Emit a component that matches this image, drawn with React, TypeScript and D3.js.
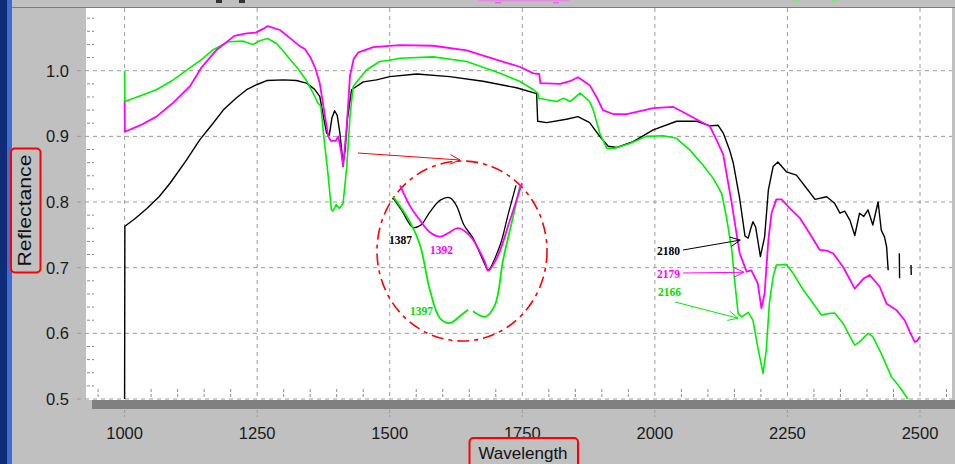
import React from 'react';
import * as d3 from 'd3';

// wavelength (nm), reflectance ; null = gap in the record
const blackSpectrum: [number, number | null][] = [
  [1000, 0.5], [1000.5, 0.763], [1020, 0.775], [1042, 0.79], [1065, 0.808], [1086, 0.829],
  [1115, 0.862], [1142, 0.895], [1165, 0.918], [1186, 0.94], [1210, 0.958], [1230, 0.971],
  [1250, 0.979], [1268, 0.985], [1300, 0.986], [1324, 0.985], [1343, 0.981], [1358, 0.972],
  [1368, 0.961], [1375, 0.93], [1381, 0.905], [1386, 0.902], [1391, 0.928], [1396, 0.939],
  [1401, 0.932], [1406, 0.905], [1412, 0.858], [1416, 0.88], [1420, 0.925], [1428, 0.971],
  [1450, 0.983], [1475, 0.986], [1500, 0.991], [1551, 0.995], [1613, 0.991], [1676, 0.984],
  [1739, 0.974], [1777, 0.965], [1779, 0.923], [1796, 0.921], [1833, 0.926], [1855, 0.93],
  [1877, 0.921], [1896, 0.9], [1912, 0.885], [1928, 0.883], [1959, 0.892], [1997, 0.91],
  [2041, 0.923], [2079, 0.923], [2104, 0.916], [2119, 0.917], [2129, 0.905], [2141, 0.879],
  [2148, 0.859], [2160, 0.805], [2170, 0.748], [2176, 0.745], [2181, 0.76], [2185, 0.77],
  [2190, 0.762], [2199, 0.717], [2207, 0.747], [2214, 0.818], [2223, 0.854], [2232, 0.861],
  [2248, 0.846], [2267, 0.841], [2286, 0.821], [2302, 0.804], [2324, 0.808], [2339, 0.798],
  [2349, 0.783], [2358, 0.786], [2368, 0.772], [2377, 0.749], [2386, 0.783], [2394, 0.778],
  [2402, 0.788], [2411, 0.765], [2421, 0.8], [2427, 0.757], [2433, 0.747], [2437, 0.732],
  [2440, 0.696], [2450, null], [2461, 0.722], [2461.5, 0.684], [2470, null],
  [2483, 0.704], [2483.5, 0.689],
];

const magentaSpectrum: [number, number][] = [
  [1000, 0.953], [1000.5, 0.907], [1030, 0.917], [1060, 0.93], [1090, 0.95], [1123, 0.976],
  [1145, 1.005], [1174, 1.032], [1207, 1.053], [1230, 1.057], [1247, 1.058], [1262, 1.064],
  [1270, 1.068], [1293, 1.062], [1316, 1.047], [1331, 1.037], [1340, 1.033], [1350, 1.021],
  [1360, 1.003], [1368, 0.981], [1378, 0.93], [1384, 0.9], [1389, 0.893], [1393, 0.893],
  [1398, 0.893], [1403, 0.9], [1409, 0.874], [1412, 0.854], [1419, 0.916], [1425, 0.992],
  [1432, 1.018], [1441, 1.028], [1469, 1.036], [1519, 1.039], [1582, 1.038], [1645, 1.031],
  [1708, 1.015], [1745, 1.006], [1771, 0.996], [1782, 0.995], [1784, 0.981], [1821, 0.98],
  [1840, 0.984], [1855, 0.99], [1877, 0.978], [1890, 0.96], [1902, 0.94], [1921, 0.934],
  [1947, 0.934], [1997, 0.943], [2034, 0.945], [2060, 0.934], [2085, 0.923], [2104, 0.915],
  [2116, 0.895], [2129, 0.872], [2135, 0.844], [2145, 0.798], [2154, 0.752], [2160, 0.722],
  [2173, 0.694], [2182, 0.696], [2194, 0.676], [2201, 0.638], [2207, 0.661], [2214, 0.742],
  [2220, 0.783], [2229, 0.804], [2239, 0.804], [2255, 0.79], [2274, 0.775], [2292, 0.752],
  [2311, 0.727], [2324, 0.726], [2336, 0.722], [2355, 0.701], [2377, 0.668], [2393, 0.683],
  [2405, 0.689], [2424, 0.671], [2437, 0.645], [2456, 0.635], [2471, 0.62], [2481, 0.602],
  [2490, 0.587], [2494, 0.588], [2500, 0.595],
];

const greenSpectrum: [number, number][] = [
  [1000, 1.0], [1000.5, 0.953], [1030, 0.962], [1060, 0.971], [1090, 0.985], [1117, 1.001],
  [1145, 1.017], [1167, 1.032], [1196, 1.044], [1224, 1.045], [1242, 1.04], [1256, 1.046],
  [1270, 1.049], [1287, 1.041], [1299, 1.03], [1310, 1.019], [1324, 1.006], [1343, 0.985],
  [1356, 0.965], [1365, 0.95], [1370, 0.946], [1375, 0.905], [1384, 0.839], [1390, 0.788],
  [1393, 0.786], [1399, 0.796], [1405, 0.79], [1412, 0.798], [1419, 0.854], [1425, 0.93],
  [1431, 0.976], [1456, 1.001], [1481, 1.014], [1500, 1.016], [1519, 1.019], [1582, 1.021],
  [1645, 1.014], [1708, 0.996], [1745, 0.984], [1771, 0.971], [1779, 0.966], [1781, 0.958],
  [1815, 0.953], [1828, 0.958], [1840, 0.953], [1859, 0.966], [1877, 0.953], [1884, 0.94],
  [1896, 0.905], [1909, 0.882], [1924, 0.882], [1953, 0.889], [1984, 0.9], [2016, 0.901],
  [2041, 0.897], [2066, 0.879], [2091, 0.856], [2110, 0.836], [2126, 0.813], [2135, 0.777],
  [2145, 0.727], [2151, 0.676], [2157, 0.63], [2164, 0.625], [2176, 0.632], [2185, 0.62],
  [2194, 0.579], [2204, 0.539], [2210, 0.574], [2216, 0.646], [2223, 0.686], [2229, 0.704],
  [2248, 0.705], [2261, 0.691], [2280, 0.666], [2299, 0.645], [2314, 0.628], [2327, 0.63],
  [2339, 0.631], [2355, 0.615], [2368, 0.595], [2377, 0.582], [2386, 0.587], [2402, 0.6],
  [2411, 0.595], [2427, 0.569], [2446, 0.534], [2462, 0.518], [2477, 0.5],
];

// magnified view of the 1.4 um doublet (schematic, drawn in the circle)
const insetBlack: [number, number][] = [
  [1370, 0.941], [1374, 0.925], [1379.3, 0.903], [1383, 0.906], [1387.2, 0.923], [1392, 0.938],
  [1396.5, 0.941], [1399.5, 0.931], [1403, 0.906], [1407, 0.89], [1412.8, 0.855], [1414.2, 0.848],
  [1419.8, 0.88], [1423.5, 0.919], [1427.2, 0.957],
];
const insetMagenta: [number, number][] = [
  [1373.3, 0.957], [1378, 0.93], [1382.6, 0.912], [1387, 0.897], [1391.9, 0.891], [1396, 0.896],
  [1400.2, 0.902], [1405.8, 0.892], [1412.8, 0.858], [1414.2, 0.847], [1418.4, 0.864],
  [1424.4, 0.912], [1430, 0.96],
];
const insetGreen: [number, number | null][] = [
  [1370, 0.943], [1377.9, 0.91], [1382.6, 0.88], [1387.2, 0.822], [1391.9, 0.786],
  [1396.5, 0.78], [1401.2, 0.789], [1404.9, 0.797], [1406, null], [1407.2, 0.795],
  [1412.8, 0.788], [1417.4, 0.803], [1421.2, 0.861], [1425.3, 0.91], [1429.1, 0.957],
];

const xTicks = [1000, 1250, 1500, 1750, 2000, 2250, 2500];
const yTicks = [0.5, 0.6, 0.7, 0.8, 0.9, 1.0];
const yTickLabels = ['0.5', '0.6', '0.7', '0.8', '0.9', '1.0'];

const bandLabels = ['2180', '2179', '2166'];
const bandTargets: [number, number][] = [[2161, 0.742], [2168, 0.693], [2157, 0.623]];
const insetLabels = ['1387', '1392', '1397'];

const W = 955;
const H = 464;
const plot = { left: 86, right: 952, top: 8, bottom: 400 };

const x = d3.scaleLinear().domain([1000, 2500]).range([124.6, 920]);
const y = d3.scaleLinear().domain([0.5, 1.0]).range([399, 70.7]);
const xi = d3.scaleLinear().domain([1370, 1430]).range([393, 522]);
const yi = d3.scaleLinear().domain([0.78, 0.96]).range([323, 183]);

const line = d3.line<[number, number | null]>()
  .defined(d => d[1] != null)
  .x(d => x(d[0]))
  .y(d => y(d[1] as number));

const insetLine = d3.line<[number, number | null]>()
  .defined(d => d[1] != null)
  .x(d => xi(d[0]))
  .y(d => yi(d[1] as number))
  .curve(d3.curveCatmullRom);

const BLACK = '#000000';
const MAGENTA = '#ff00ff';
const GREEN = '#00ee00';
const RED = '#ff0000';
const GRID = '#9a9a9a';

function Arrow({ x1, y1, x2, y2, color, w = 1 }: any) {
  const a = Math.atan2(y2 - y1, x2 - x1);
  const len = 11;
  const spread = 0.45;
  const h1 = [x2 - len * Math.cos(a - spread), y2 - len * Math.sin(a - spread)];
  const h2 = [x2 - len * Math.cos(a + spread), y2 - len * Math.sin(a + spread)];
  return (
    <g stroke={color} strokeWidth={w} fill="none">
      <line x1={x1} y1={y1} x2={x2} y2={y2} />
      <polyline points={`${h1[0]},${h1[1]} ${x2},${y2} ${h2[0]},${h2[1]}`} />
    </g>
  );
}

export default function App() {
  const minorY = d3.range(0.5, 1.09, 0.02).filter(v => Math.abs((v * 10) % 1) > 0.05 && Math.abs((v * 10) % 1) < 0.95);
  const minorX = d3.range(950, 2551, 50).filter(v => v % 250 !== 0);
  const labelColors = [BLACK, MAGENTA, '#00dd00'];

  return (
    <svg width={W} height={H} style={{ position: 'absolute', left: 0, top: 0 }}
      fontFamily="'Liberation Sans', Arial, sans-serif">
      <defs>
        <clipPath id="plotClip">
          <rect x={plot.left} y={plot.top} width={plot.right - plot.left} height={plot.bottom - plot.top} />
        </clipPath>
      </defs>

      {/* window chrome */}
      <rect x={0} y={0} width={W} height={H} fill="#c0c0c0" />
      <rect x={0} y={0} width={8} height={H} fill="#0e2c78" />
      <rect x={7} y={0} width={5} height={H} fill="#3d6cd6" />
      <line x1={12} x2={W} y1={7.5} y2={7.5} stroke="#7c7c7c" />

      {/* bottoms of the legend strip glyphs, scrolled out of view */}
      <g>
        <rect x={216} y={0} width={6} height={3} fill="#333" />
        <rect x={239} y={0} width={6} height={3} fill="#333" />
        <rect x={478} y={0} width={92} height={1.5} fill="#e38ae3" />
        <rect x={495} y={2} width={6} height={1.5} fill="#e070e0" />
        <rect x={553} y={2} width={6} height={1.5} fill="#e070e0" />
        <rect x={793} y={0} width={7} height={2} fill="#88e088" />
        <rect x={832} y={0} width={6} height={2} fill="#88e088" />
      </g>

      {/* plot area */}
      <rect x={plot.left} y={plot.top} width={plot.right - plot.left} height={plot.bottom - plot.top} fill="#ffffff" />
      <rect x={92} y={400} width={W - 92} height={9} fill="#808080" />

      {/* grid */}
      {yTicks.map(v => (
        <line key={'gy' + v} x1={77} x2={plot.right} y1={y(v)} y2={y(v)}
          stroke={GRID} strokeDasharray="4,4" />
      ))}
      {xTicks.map(v => (
        <g key={'gx' + v}>
          <line x1={x(v)} x2={x(v)} y1={plot.top} y2={plot.bottom}
            stroke={GRID} strokeDasharray="4,4" />
          <line x1={x(v)} x2={x(v)} y1={410} y2={417} stroke={GRID} strokeDasharray="3,2" />
        </g>
      ))}
      {minorY.map(v => (
        <line key={'my' + v} x1={87} x2={94} y1={y(v)} y2={y(v)} stroke="#8a8a8a" strokeDasharray="3,2" />
      ))}
      {minorX.map(v => (
        <line key={'mx' + v} x1={x(v)} x2={x(v)} y1={389} y2={399} stroke="#8a8a8a" strokeDasharray="3,2" />
      ))}

      {/* spectra */}
      <g clipPath="url(#plotClip)" fill="none" strokeLinejoin="round">
        <path d={line(blackSpectrum) || ''} stroke={BLACK} strokeWidth={1.4} />
        <path d={line(greenSpectrum as any) || ''} stroke={GREEN} strokeWidth={1.6} />
        <path d={line(magentaSpectrum as any) || ''} stroke={MAGENTA} strokeWidth={1.8} />
      </g>

      {/* magnified inset */}
      <ellipse cx={462} cy={251} rx={85} ry={90} fill="none" stroke={RED} strokeWidth={1.6}
        strokeDasharray="12,5,4,5" />
      <g fill="none" strokeLinejoin="round">
        <path d={insetLine(insetBlack as any) || ''} stroke={BLACK} strokeWidth={1.3} />
        <path d={insetLine(insetGreen) || ''} stroke={GREEN} strokeWidth={1.8} />
        <path d={insetLine(insetMagenta as any) || ''} stroke={MAGENTA} strokeWidth={1.8} />
      </g>
      <Arrow x1={358} y1={153} x2={460} y2={160} color={RED} />
      <g fontFamily="'Liberation Serif', 'Times New Roman', serif" fontWeight="bold" fontSize={11.5}>
        <text x={389} y={244} fill={labelColors[0]}>{insetLabels[0]}</text>
        <text x={430} y={254} fill={labelColors[1]}>{insetLabels[1]}</text>
        <text x={410} y={315} fill={labelColors[2]}>{insetLabels[2]}</text>
      </g>

      {/* band annotations */}
      <g fontFamily="'Liberation Serif', 'Times New Roman', serif" fontWeight="bold" fontSize={11.5}>
        {bandLabels.map((lab, i) => {
          const tx = [657, 657, 658][i];
          const ty = [255, 278, 296][i];
          const tail = [[683, 250], [683, 273], [675, 302]][i];
          return (
            <g key={lab}>
              <text x={tx} y={ty} fill={labelColors[i]}>{lab}</text>
              <Arrow x1={tail[0]} y1={tail[1]} x2={x(bandTargets[i][0])} y2={y(bandTargets[i][1])}
                color={i === 2 ? GREEN : labelColors[i]} />
            </g>
          );
        })}
      </g>

      {/* tick labels */}
      {yTicks.map((v, i) => (
        <text key={'ly' + v} x={69} y={y(v) + 6} fontSize={16.5} textAnchor="end" fill="#1a1a1a">
          {yTickLabels[i]}
        </text>
      ))}
      {xTicks.map(v => (
        <text key={'lx' + v} x={x(v)} y={439} fontSize={16.5} textAnchor="middle" fill="#1a1a1a">
          {v}
        </text>
      ))}

      {/* axis titles */}
      <rect x={11} y={148.5} width={29.5} height={124} rx={4} fill="none" stroke={RED} strokeWidth={2} />
      <text transform="translate(31,210.5) rotate(-90)" textAnchor="middle" fontSize={19}
        textLength={112} lengthAdjust="spacingAndGlyphs" fill="#111">Reflectance</text>
      <rect x={469.5} y={438} width={108.5} height={34} rx={4} fill="none" stroke={RED} strokeWidth={2} />
      <text x={523} y={459} textAnchor="middle" fontSize={17} fill="#111">Wavelength</text>
    </svg>
  );
}
